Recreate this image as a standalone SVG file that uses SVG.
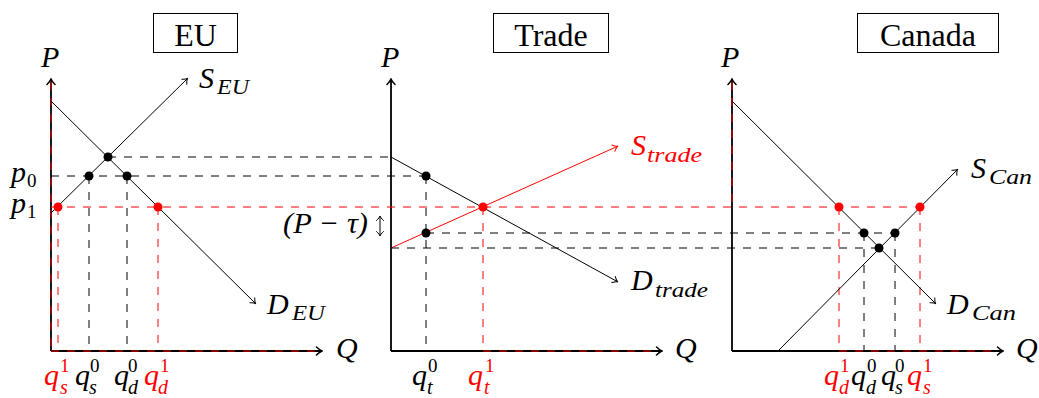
<svg xmlns="http://www.w3.org/2000/svg" width="1039" height="398" viewBox="0 0 1039 398" font-family="'Liberation Serif', Tinos, 'Noto Serif', 'DejaVu Serif', 'Nimbus Roman', FreeSerif, 'Times New Roman', Times, serif">
<style>
.ax{stroke:#000;stroke-width:1.8;fill:none}
.cv{stroke:#000;stroke-width:1;fill:none}
.cvr{stroke:#f00;stroke-width:1;fill:none}
.dk{stroke:#000;stroke-width:1;stroke-dasharray:8 8;fill:none}
.dr{stroke:#f00;stroke-width:1;stroke-dasharray:8 8;fill:none}
.db{fill:#000}
.dt{fill:#f00}
text{font-family:"Liberation Serif",Tinos,"Noto Serif","DejaVu Serif","Nimbus Roman",FreeSerif,"Times New Roman",Times,serif;fill:#000}
.m{font-style:italic;font-size:30px}
.si{font-style:italic;font-size:20px}
.sn{font-size:19px}
.red{fill:#f00}
.ttl{font-size:32px;text-anchor:middle}
.box{fill:#fff;stroke:#000;stroke-width:1}
</style>
<defs>
<marker id="aA" viewBox="-7 -5 8 10" refX="0" refY="0" markerWidth="8" markerHeight="10" markerUnits="userSpaceOnUse" orient="auto">
<path d="M-5.5,-4 C-3,-1.5 -1,-0.4 0,0 C-1,0.4 -3,1.5 -5.5,4" fill="none" stroke="#000" stroke-width="1.5" stroke-linecap="round"/>
</marker>
<marker id="aK" viewBox="-6 -5 7 10" refX="0" refY="0" markerWidth="7" markerHeight="10" markerUnits="userSpaceOnUse" orient="auto">
<path d="M-4.5,-3.5 C-2.5,-1.3 -0.8,-0.3 0,0 C-0.8,0.3 -2.5,1.3 -4.5,3.5" fill="none" stroke="#000" stroke-width="1" stroke-linecap="round"/>
</marker>
<marker id="aR" viewBox="-6 -5 7 10" refX="0" refY="0" markerWidth="7" markerHeight="10" markerUnits="userSpaceOnUse" orient="auto">
<path d="M-4.5,-3.5 C-2.5,-1.3 -0.8,-0.3 0,0 C-0.8,0.3 -2.5,1.3 -4.5,3.5" fill="none" stroke="#f00" stroke-width="1" stroke-linecap="round"/>
</marker>
<marker id="aKs" viewBox="-6 -5 7 10" refX="0" refY="0" markerWidth="7" markerHeight="10" markerUnits="userSpaceOnUse" orient="auto-start-reverse">
<path d="M-4.5,-3.5 C-2.5,-1.3 -0.8,-0.3 0,0 C-0.8,0.3 -2.5,1.3 -4.5,3.5" fill="none" stroke="#000" stroke-width="1" stroke-linecap="round"/>
</marker>
</defs>

<g id="eu">
<rect class="box" x="153.5" y="13.5" width="84" height="39"/>
<text class="ttl" x="195.5" y="46">EU</text>
<line class="ax" x1="51" y1="351" x2="51" y2="79" marker-end="url(#aA)"/>
<line class="ax" x1="51" y1="351" x2="322" y2="351" marker-end="url(#aA)"/>
<line class="dr" x1="51" y1="82" x2="51" y2="351"/>
<line class="dr" x1="51" y1="351" x2="318" y2="351"/>
<line class="dr" x1="58" y1="207" x2="58" y2="351"/>
<line class="dk" x1="89" y1="176" x2="89" y2="351"/>
<line class="dk" x1="127" y1="176" x2="127" y2="351"/>
<line class="dr" x1="158" y1="207" x2="158" y2="351"/>
<line class="cv" x1="51" y1="101" x2="255.5" y2="303.5" marker-end="url(#aK)"/>
<line class="cv" x1="51" y1="213" x2="187.5" y2="78.5" marker-end="url(#aK)"/>
<circle class="db" cx="108" cy="157" r="4.5"/>
<circle class="db" cx="89" cy="176" r="4.5"/>
<circle class="db" cx="127" cy="176" r="4.5"/>
<circle class="dt" cx="58" cy="207" r="4.5"/>
<circle class="dt" cx="158" cy="207" r="4.5"/>
<text class="m" x="41" y="67">P</text>
<text class="m" x="336" y="358">Q</text>
<text class="m" x="199" y="88">S</text><text class="si" x="217" y="94" textLength="32" lengthAdjust="spacingAndGlyphs">EU</text>
<text class="m" x="267" y="314">D</text><text class="si" x="292" y="320" textLength="33" lengthAdjust="spacingAndGlyphs">EU</text>
<text class="m" x="11" y="182">p</text><text class="sn" x="27" y="187">0</text>
<text class="m" x="11" y="213">p</text><text class="sn" x="27" y="218">1</text>
<text class="m red" x="44" y="385">q</text><text class="sn red" x="60" y="372">1</text><text class="si red" x="60" y="394">s</text>
<text class="m" x="75" y="385">q</text><text class="sn" x="90" y="372">0</text><text class="si" x="89" y="394">s</text>
<text class="m" x="114" y="385">q</text><text class="sn" x="128" y="372">0</text><text class="si" x="128" y="394">d</text>
<text class="m red" x="144" y="385">q</text><text class="sn red" x="160" y="372">1</text><text class="si red" x="158" y="394">d</text>
</g>

<g id="trade">
<rect class="box" x="493.5" y="13.5" width="115" height="39"/>
<text class="ttl" x="551" y="46">Trade</text>
<line class="ax" x1="391" y1="351" x2="391" y2="79" marker-end="url(#aA)"/>
<line class="ax" x1="391" y1="351" x2="662" y2="351" marker-end="url(#aA)"/>
<line class="dr" x1="483" y1="351" x2="658" y2="351"/>
<line class="dk" x1="426" y1="176" x2="426" y2="351"/>
<line class="dr" x1="483" y1="207" x2="483" y2="351"/>
<line class="cv" x1="391" y1="157" x2="617.5" y2="281.7" marker-end="url(#aK)"/>
<line class="cvr" x1="391" y1="248" x2="617.5" y2="146.3" marker-end="url(#aR)"/>
<circle class="db" cx="426" cy="176" r="4.5"/>
<circle class="db" cx="426" cy="233" r="4.5"/>
<circle class="dt" cx="483" cy="207" r="4.5"/>
<text class="m" x="381" y="67">P</text>
<text class="m" x="675" y="358">Q</text>
<text class="m red" x="631" y="155">S</text><text class="si red" x="647" y="162" textLength="55" lengthAdjust="spacingAndGlyphs">trade</text>
<text class="m" x="631" y="290">D</text><text class="si" x="655" y="297" textLength="53" lengthAdjust="spacingAndGlyphs">trade</text>
<text class="m" x="283" y="233" textLength="85" lengthAdjust="spacingAndGlyphs">(P − τ)</text>
<line class="cv" x1="380" y1="216" x2="380" y2="236" marker-start="url(#aKs)" marker-end="url(#aKs)"/>
<text class="m" x="412" y="385">q</text><text class="sn" x="428" y="372">0</text><text class="si" x="427" y="394">t</text>
<text class="m red" x="468" y="385">q</text><text class="sn red" x="485" y="372">1</text><text class="si red" x="484" y="394">t</text>
</g>

<g id="canada">
<rect class="box" x="857.5" y="13.5" width="141" height="39"/>
<text class="ttl" x="928" y="46">Canada</text>
<line class="ax" x1="732" y1="351" x2="732" y2="79" marker-end="url(#aA)"/>
<line class="ax" x1="732" y1="351" x2="1003" y2="351" marker-end="url(#aA)"/>
<line class="dr" x1="732" y1="82" x2="732" y2="207"/>
<line class="dr" x1="839" y1="351" x2="999" y2="351"/>
<line class="dr" x1="839" y1="207" x2="839" y2="351"/>
<line class="dk" x1="864" y1="233" x2="864" y2="351"/>
<line class="dk" x1="895" y1="233" x2="895" y2="351"/>
<line class="dr" x1="920" y1="207" x2="920" y2="351"/>
<line class="cv" x1="732" y1="101" x2="935.5" y2="303.5" marker-end="url(#aK)"/>
<line class="cv" x1="778" y1="351" x2="957.5" y2="169.5" marker-end="url(#aK)"/>
<circle class="dt" cx="839" cy="207" r="4.5"/>
<circle class="dt" cx="920" cy="207" r="4.5"/>
<circle class="db" cx="864" cy="233" r="4.5"/>
<circle class="db" cx="895" cy="233" r="4.5"/>
<circle class="db" cx="879" cy="248" r="4.5"/>
<text class="m" x="721" y="67">P</text>
<text class="m" x="1016" y="358">Q</text>
<text class="m" x="971" y="178">S</text><text class="si" x="989" y="184" textLength="43" lengthAdjust="spacingAndGlyphs">Can</text>
<text class="m" x="947" y="314">D</text><text class="si" x="972" y="320" textLength="44" lengthAdjust="spacingAndGlyphs">Can</text>
<text class="m red" x="824" y="385">q</text><text class="sn red" x="840" y="372">1</text><text class="si red" x="839" y="394">d</text>
<text class="m" x="851" y="385">q</text><text class="sn" x="867" y="372">0</text><text class="si" x="866" y="394">d</text>
<text class="m" x="881" y="385">q</text><text class="sn" x="895" y="372">0</text><text class="si" x="895" y="394">s</text>
<text class="m red" x="907" y="385">q</text><text class="sn red" x="923" y="372">1</text><text class="si red" x="923" y="394">s</text>
</g>

<g id="connectors">
<line class="dk" x1="108" y1="157" x2="391" y2="157"/>
<line class="dk" x1="51" y1="176" x2="426" y2="176"/>
<line class="dr" x1="51" y1="207" x2="920" y2="207"/>
<line class="dk" x1="426" y1="233" x2="895" y2="233"/>
<line class="dk" x1="391" y1="248" x2="879" y2="248"/>
</g>
</svg>
